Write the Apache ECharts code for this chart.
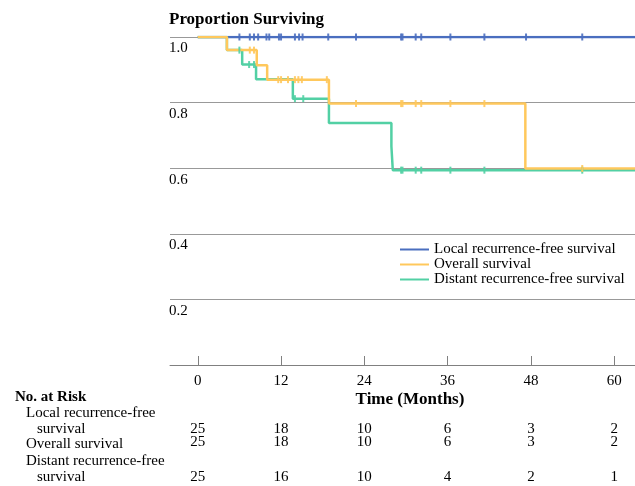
<!DOCTYPE html>
<html>
<head>
<meta charset="utf-8">
<script src="https://cdn.jsdelivr.net/npm/echarts@6/dist/echarts.min.js"></script>
<style>html,body{margin:0;padding:0;background:#fff;}#c{width:635px;height:486px;}</style>
</head>
<body>
<div id="c"></div>
<script>
// ---- data ----
const seriesNames = ['Local recurrence-free survival', 'Overall survival', 'Distant recurrence-free survival'];
const timeTicks = [0, 12, 24, 36, 48, 60];
const yTicks = [0.2, 0.4, 0.6, 0.8, 1.0];
// step curves: [time (months), survival]
const localCurve = [[0, 1], [63, 1]];
const overallCurve = [[0, 1], [4.2, 0.96], [8.5, 0.914], [10.0, 0.870], [18.9, 0.797], [47.2, 0.599], [63, 0.599]];
const distantCurve = [[0, 1], [4.2, 0.96], [6.4, 0.916], [8.4, 0.871], [13.7, 0.812], [18.9, 0.738], [27.9, 0.667], [28.1, 0.594], [63, 0.594]];
// censoring times
const localCensor = [6.0, 7.5, 8.1, 8.7, 9.9, 10.3, 11.7, 12.0, 14.0, 14.6, 15.1, 18.8, 22.8, 29.3, 29.5, 31.4, 32.2, 36.4, 41.3, 47.3, 55.4];
const overallCensor = [7.5, 8.1, 11.6, 12.0, 13.0, 14.0, 14.5, 15.0, 18.6, 22.8, 29.3, 29.5, 31.4, 32.2, 36.4, 41.3, 55.4];
const distantCensor = [6.0, 7.4, 8.1, 14.0, 15.2, 29.3, 29.5, 31.4, 32.2, 36.4, 41.3, 55.4];
// numbers at risk
const riskLocal = [25, 18, 10, 6, 3, 2];
const riskOverall = [25, 18, 10, 6, 3, 2];
const riskDistant = [25, 16, 10, 4, 2, 1];

// ---- styling ----
const FONT = "'Liberation Serif', 'Times New Roman', serif";
const colors = ['#4A6EBF', '#FFC85C', '#52D0A4'];

function valueAt(curve, t) {
  let v = curve[0][1];
  for (const p of curve) { if (p[0] <= t) v = p[1]; }
  return v;
}
function censorPoints(curve, times) { return times.map(t => [t, valueAt(curve, t)]); }

const chart = echarts.init(document.getElementById('c'), null, {renderer: 'canvas'});
const lineSeries = (name, data, color, z) => ({
  name, type: 'line', data, step: 'end', symbol: 'none', z,
  lineStyle: {color, width: 2.5}, itemStyle: {color}, emphasis: {disabled: true}
});
const tickSeries = (name, data, color, z) => ({
  name, type: 'scatter', data, symbol: 'rect', symbolSize: [2, 7], z,
  itemStyle: {color, opacity: 0.9}, emphasis: {disabled: true}, silent: true
});

chart.setOption({
  animation: false,
  title: {
    text: 'Proportion Surviving', left: 169, top: 11, padding: 0,
    textStyle: {fontFamily: FONT, fontSize: 17, fontWeight: 'bold', color: '#000'}
  },
  grid: {left: 170, right: 0, top: 37, bottom: 121, containLabel: false},
  legend: {
    data: seriesNames, orient: 'vertical', left: 400, top: 242, padding: 0,
    itemGap: 0, itemWidth: 29, itemHeight: 2, icon: 'rect',
    textStyle: {fontFamily: FONT, fontSize: 15, lineHeight: 14, color: '#000'}
  },
  xAxis: {
    type: 'value', min: -4, max: 63,
    splitLine: {show: false},
    axisLine: {lineStyle: {color: '#808080', width: 1}},
    axisTick: {customValues: timeTicks, inside: true, length: 9, lineStyle: {color: '#808080'}},
    axisLabel: {customValues: timeTicks, margin: 9, fontFamily: FONT, fontSize: 15, color: '#000'}
  },
  yAxis: {
    type: 'value', min: 0, max: 1, interval: 0.2,
    axisLine: {show: false}, axisTick: {show: false},
    splitLine: {lineStyle: {color: '#999', width: 1}},
    axisLabel: {
      showMinLabel: false, formatter: v => v.toFixed(1), align: 'left', verticalAlign: 'top',
      margin: 1, padding: [4, 0, 0, 0], fontFamily: FONT, fontSize: 15, color: '#000'
    }
  },
  series: [
    lineSeries(seriesNames[0], localCurve, colors[0], 2),
    lineSeries(seriesNames[2], distantCurve, colors[2], 2),
    lineSeries(seriesNames[1], overallCurve, colors[1], 2),
    tickSeries('local-censor', censorPoints(localCurve, localCensor), colors[0], 3),
    tickSeries('distant-censor', censorPoints(distantCurve, distantCensor), colors[2], 3),
    tickSeries('overall-censor', censorPoints(overallCurve, overallCensor), colors[1], 3)
  ]
});

// ---- risk table & axis title ----
const txt = (text, x, y, opts = {}) => ({
  type: 'text', x, y, silent: true,
  style: Object.assign({text, fontFamily: FONT, fontSize: 15, fill: '#000', align: 'left', verticalAlign: 'middle'}, opts)
});
const g = [];
g.push(txt('Time (Months)', 410, 400, {fontWeight: 'bold', fontSize: 17, align: 'center'}));
g.push(txt('No. at Risk', 15, 397, {fontWeight: 'bold'}));
g.push(txt('Local recurrence-free', 26, 413));
g.push(txt('survival', 37, 429));
g.push(txt('Overall survival', 26, 444));
g.push(txt('Distant recurrence-free', 26, 461));
g.push(txt('survival', 37, 477));
const rows = [[riskLocal, 429], [riskOverall, 442.5], [riskDistant, 477]];
timeTicks.forEach((t, i) => {
  const px = chart.convertToPixel({xAxisIndex: 0}, t);
  rows.forEach(([arr, y]) => g.push(txt(String(arr[i]), px, y, {align: 'center'})));
});
chart.setOption({graphic: {elements: g}});
</script>
</body>
</html>
